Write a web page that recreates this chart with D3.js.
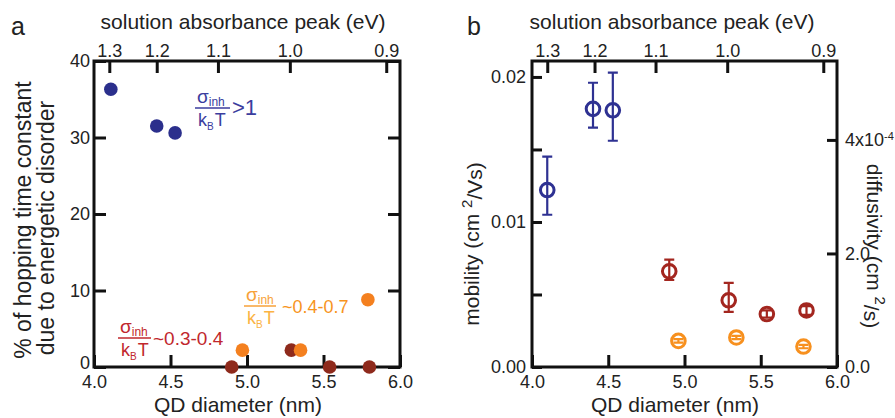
<!DOCTYPE html>
<html>
<head>
<meta charset="utf-8">
<script src="https://cdn.jsdelivr.net/npm/d3@7"></script>
<style>
  body { margin: 0; background: #fff; }
  svg { font-family: "Liberation Sans", Arial, sans-serif; }
</style>
</head>
<body>
<div id="chart"></div>
<script>
// ---- data ----
const topTickEv = ["1.3", "1.2", "1.1", "1.0", "0.9"];
const topTickDiam = [4.10, 4.41, 4.81, 5.28, 5.91];   // where each eV sits on the diameter axis
const diamTicks = [4.0, 4.5, 5.0, 5.5, 6.0];

// panel a: % of hopping time due to energetic disorder
const aBlueX = [4.11, 4.41, 4.53];
const aBlueY = [36.3, 31.5, 30.6];
const aRedX = [4.90, 5.29, 5.54, 5.80];
const aRedY = [0, 2.2, 0, 0];
const aOrangeX = [4.97, 5.35, 5.79];
const aOrangeY = [2.2, 2.2, 8.8];
const aTicks = [0, 10, 20, 30, 40];

// panel b: mobility (left axis) and diffusivity (right axis, x1e-4)
const bBlueX = [4.10, 4.40, 4.53];
const bBlueY = [0.0122, 0.0178, 0.0177];
const bBlueLo = [0.0105, 0.0165, 0.0156];
const bBlueHi = [0.0145, 0.0196, 0.0203];
const bRedX = [4.90, 5.29, 5.54, 5.80];
const bRedY = [0.0066, 0.0046, 0.00365, 0.0039];
const bRedLo = [0.0060, 0.0038, 0.0034, 0.0036];
const bRedHi = [0.0074, 0.0058, 0.0039, 0.0042];
const bOrangeX = [4.96, 5.34, 5.78];
const bOrangeY = [0.46, 0.52, 0.36];
const bOrangeLo = [0.43, 0.49, 0.33];
const bOrangeHi = [0.49, 0.55, 0.39];
const mobTicks = [0, 0.005, 0.01, 0.015, 0.02];
const difTicks = [0, 2, 4];

const W = 895, H = 418;
const plotTop = 61, plotBottom = 367;

const svg = d3.select("#chart")
  .append("svg")
  .attr("width", W)
  .attr("height", H);

const xa = d3.scaleLinear().domain([4, 6]).range([94, 400]);
const ya = d3.scaleLinear().domain([0, 40]).range([plotBottom, plotTop]);
const xb = d3.scaleLinear().domain([4, 6]).range([532, 837]);
const yb = d3.scaleLinear().domain([0, 0.0211]).range([plotBottom, plotTop]);
const yb2 = d3.scaleLinear().domain([0, 5.39]).range([plotBottom, plotTop]);

function styleAxis(g) {
  g.select(".domain").remove();
  g.selectAll(".tick line").attr("stroke", "#111").attr("stroke-width", 3);
  g.selectAll(".tick text").attr("fill", "#222").style("font-size", "18px");
}

// frame + diameter / eV axes shared by both panels
function frame(x) {
  const [x0, x1] = x.range();
  svg.append("g")
    .attr("transform", `translate(0, ${plotBottom})`)
    .call(d3.axisBottom(x).tickValues(diamTicks).tickFormat(d3.format(".1f"))
      .tickSize(-12).tickSizeOuter(0).tickPadding(8))
    .call(styleAxis);
  svg.append("g")
    .attr("transform", `translate(0, ${plotTop})`)
    .call(d3.axisTop(x).tickValues(topTickDiam).tickFormat((d, i) => topTickEv[i])
      .tickSize(-12).tickSizeOuter(0).tickPadding(4))
    .call(styleAxis);
  svg.append("rect")
    .attr("x", x0).attr("y", plotTop)
    .attr("width", x1 - x0).attr("height", plotBottom - plotTop)
    .attr("fill", "none").attr("stroke", "#111").attr("stroke-width", 3);
}

// ---------------- panel a ----------------
frame(xa);
svg.append("g")
  .attr("transform", `translate(94, 0)`)
  .call(d3.axisLeft(ya).tickValues(aTicks).tickSize(-12).tickSizeOuter(0).tickPadding(4))
  .call(styleAxis)
  .call(g => g.selectAll(".tick text").filter(d => d === 0).attr("dy", "0.1em"));
svg.append("g")
  .attr("transform", `translate(400, 0)`)
  .call(d3.axisRight(ya).tickValues(aTicks).tickSize(-12).tickSizeOuter(0).tickFormat(""))
  .call(styleAxis);

function dots(xs, ys, color) {
  svg.append("g")
    .selectAll("circle")
    .data(xs)
    .join("circle")
      .attr("cx", d => xa(d))
      .attr("cy", (d, i) => ya(ys[i]))
      .attr("r", 6.8)
      .attr("fill", color);
}
dots(aBlueX, aBlueY, "#2b2f8c");
dots(aRedX, aRedY, "#8e2a1c");
dots(aOrangeX, aOrangeY, "#f4801f");

// sigma_inh / k_B T annotations
function ratio(x, yLine, wLine, c1, c2, tail, tailColor, tailSize, gap) {
  const g = svg.append("g");
  const s = g.append("text").attr("x", x + 2).attr("y", yLine - 5)
    .attr("fill", c1).style("font-size", "19px");
  s.append("tspan").text("σ");
  s.append("tspan").attr("dy", 3).style("font-size", "12px").text("inh");
  g.append("line")
    .attr("x1", x).attr("x2", x + wLine)
    .attr("y1", yLine).attr("y2", yLine)
    .attr("stroke", c1).attr("stroke-width", 1.5);
  const k = g.append("text").attr("x", x + 3).attr("y", yLine + 18)
    .attr("fill", c2).style("font-size", "18px");
  k.append("tspan").text("k");
  k.append("tspan").attr("dy", 4).style("font-size", "10px").text("B");
  k.append("tspan").attr("dy", -4).attr("dx", 1).text("T");
  g.append("text")
    .attr("x", x + wLine + gap).attr("y", yLine + 7)
    .attr("fill", tailColor).style("font-size", tailSize + "px")
    .text(tail);
}
ratio(195, 108, 35, "#3b3d9e", "#3b3d9e", ">1", "#3b3d9e", 22, 2);
ratio(118, 338, 33, "#c1272d", "#c1272d", "~0.3-0.4", "#c1272d", 19, 2);
ratio(244, 306, 32, "#f7a23a", "#fbb343", "~0.4-0.7", "#f7941d", 18, 6);

// titles panel a
svg.append("text").attr("x", 11).attr("y", 35)
  .style("font-size", "25px").attr("fill", "#222").text("a");
svg.append("text").attr("x", 243).attr("y", 29).attr("text-anchor", "middle")
  .style("font-size", "21px").attr("fill", "#222").text("solution absorbance peak (eV)");
svg.append("text").attr("x", 238).attr("y", 412).attr("text-anchor", "middle")
  .style("font-size", "21px").attr("fill", "#222").text("QD diameter (nm)");
svg.append("text")
  .attr("transform", "translate(31, 220) rotate(-90)")
  .attr("text-anchor", "middle")
  .style("font-size", "23px").attr("fill", "#222")
  .text("% of hopping time constant");
svg.append("text")
  .attr("transform", "translate(54, 228) rotate(-90)")
  .attr("text-anchor", "middle")
  .style("font-size", "23px").attr("fill", "#222")
  .text("due to energetic disorder");

// ---------------- panel b ----------------
frame(xb);
const fmt2 = d3.format(".2f");
svg.append("g")
  .attr("transform", `translate(532, 0)`)
  .call(d3.axisLeft(yb).tickValues(mobTicks)
    .tickFormat((d, i) => i % 2 === 0 ? fmt2(d) : "")
    .tickSize(-10).tickSizeOuter(0).tickPadding(6))
  .call(styleAxis);
const right = svg.append("g")
  .attr("transform", `translate(837, 0)`)
  .call(d3.axisRight(yb2).tickValues(difTicks).tickSize(-10).tickSizeOuter(0).tickPadding(8))
  .call(styleAxis);
right.selectAll(".tick text").each(function(d) {
  if (d === 4) {
    const t = d3.select(this).text("4x10");
    t.append("tspan").attr("dy", "-0.6em").style("font-size", "11px").text("-4");
  }
});

function openMarks(xs, ys, lo, hi, yScale, color) {
  const g = svg.append("g").attr("stroke", color).attr("fill", "none");
  const idx = d3.range(xs.length);
  g.selectAll(".bar")
    .data(idx)
    .join("path")
      .attr("stroke-width", 2.2)
      .attr("d", i => {
        const cx = xb(xs[i]), a = yScale(hi[i]), b = yScale(lo[i]);
        return `M${cx - 5},${a}H${cx + 5}M${cx},${a}V${b}M${cx - 5},${b}H${cx + 5}`;
      });
  g.selectAll("circle")
    .data(idx)
    .join("circle")
      .attr("cx", i => xb(xs[i]))
      .attr("cy", i => yScale(ys[i]))
      .attr("r", 6.8)
      .attr("stroke-width", 3);
}
openMarks(bBlueX, bBlueY, bBlueLo, bBlueHi, yb, "#2e3192");
openMarks(bRedX, bRedY, bRedLo, bRedHi, yb, "#a3261f");
openMarks(bOrangeX, bOrangeY, bOrangeLo, bOrangeHi, yb2, "#f7901e");

// titles panel b
svg.append("text").attr("x", 467).attr("y", 35)
  .style("font-size", "25px").attr("fill", "#222").text("b");
svg.append("text").attr("x", 672).attr("y", 29).attr("text-anchor", "middle")
  .style("font-size", "21px").attr("fill", "#222").text("solution absorbance peak (eV)");
svg.append("text").attr("x", 675).attr("y", 412).attr("text-anchor", "middle")
  .style("font-size", "21px").attr("fill", "#222").text("QD diameter (nm)");

const mob = svg.append("text")
  .attr("transform", "translate(479, 244) rotate(-90)")
  .attr("text-anchor", "middle")
  .style("font-size", "21px").attr("fill", "#222");
mob.append("tspan").text("mobility (cm ");
mob.append("tspan").attr("dy", "-0.5em").style("font-size", "15px").text("2");
mob.append("tspan").attr("dy", "0.5em").text("/Vs)");

const dif = svg.append("text")
  .attr("transform", "translate(867, 246) rotate(90)")
  .attr("text-anchor", "middle")
  .style("font-size", "21px").attr("fill", "#222");
dif.append("tspan").text("diffusivity (cm ");
dif.append("tspan").attr("dy", "-0.5em").style("font-size", "15px").text("2");
dif.append("tspan").attr("dy", "0.5em").text("/s)");
</script>
</body>
</html>
